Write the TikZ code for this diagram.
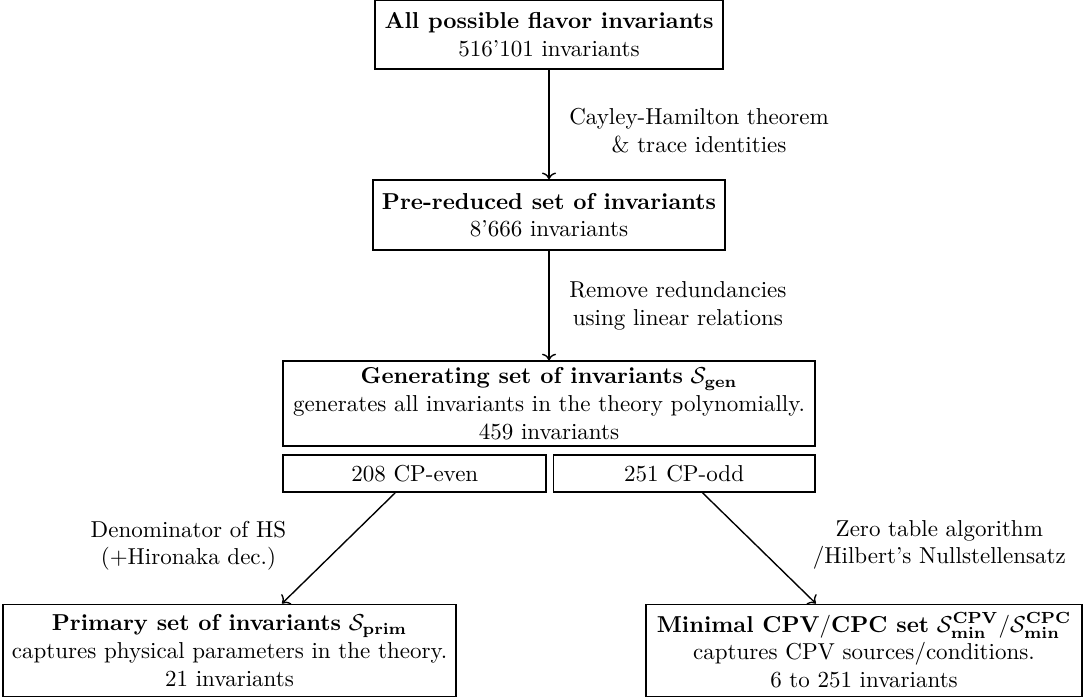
\documentclass[tikz,border=0pt]{standalone}
\usepackage{amsmath}
\usepackage{amssymb}
\usetikzlibrary{arrows.meta, positioning}

\begin{document}
\begin{tikzpicture}[
  x=0.4345pt, y=-0.4345pt,
  node distance=47.5pt,
  box/.style={rectangle, draw, thick, align=center, inner xsep=4pt, inner ysep=3pt},
  split/.style={box, minimum height=16pt},
  note/.style={align=center, inner sep=2pt},
  arrow/.style={-To, semithick}
]
\useasboundingbox (0,0) rectangle (1084,699);

\node[box, minimum width=151.2pt, minimum height=30pt] (all) at (549,34.5)
  {\textbf{All possible flavor invariants}\\516'101 invariants};

\node[box, minimum width=153pt, minimum height=30.4pt, below=of all] (pre)
  {\textbf{Pre-reduced set of invariants}\\8'666 invariants};

\node[box, inner ysep=2.2pt, minimum width=230.9pt, minimum height=36.9pt, below=of pre] (gen)
  {\textbf{Generating set of invariants} $\mathcal{S}_{\mathbf{gen}}$\\
   generates all invariants in the theory polynomially.\\459 invariants};

\node[split, minimum width=114.3pt, below=3pt of gen.south west, anchor=north west] (even)
  {208 CP-even};
\node[split, minimum width=113.5pt, below=3pt of gen.south east, anchor=north east] (odd)
  {251 CP-odd};

\node[box, minimum width=193.4pt, minimum height=40pt] (prim) at (229.5,650.5)
  {\textbf{Primary set of invariants} $\mathcal{S}_{\mathbf{prim}}$\\
   captures physical parameters in the theory.\\21 invariants};

\node[box, minimum width=189.4pt, minimum height=40pt] (minset) at (864,650.5)
  {\textbf{Minimal CPV$/$CPC set} $\mathcal{S}^{\mathbf{CPV}}_{\mathbf{min}}/\mathcal{S}^{\mathbf{CPC}}_{\mathbf{min}}$\\
   captures CPV sources/conditions.\\6 to 251 invariants};

\draw[arrow] (all) -- node[note, right=6.5pt, yshift=-2.5pt] {Cayley-Hamilton theorem\\\& trace identities} (pre);
\draw[arrow] (pre) -- node[note, right=6.5pt] {Remove redundancies\\using linear relations} (gen);
\draw[arrow] ([xshift=-8.5pt]even.south) -- node[note, left=20.5pt, yshift=1pt]
  {Denominator of HS\\(+Hironaka dec.)} ([xshift=22.8pt]prim.north);
\draw[arrow] ([xshift=8pt]odd.south) -- node[note, right=21pt, yshift=1.5pt]
  {Zero table algorithm\\$/$Hilbert's Nullstellensatz} ([xshift=-20.9pt]minset.north);
\end{tikzpicture}
\end{document}
